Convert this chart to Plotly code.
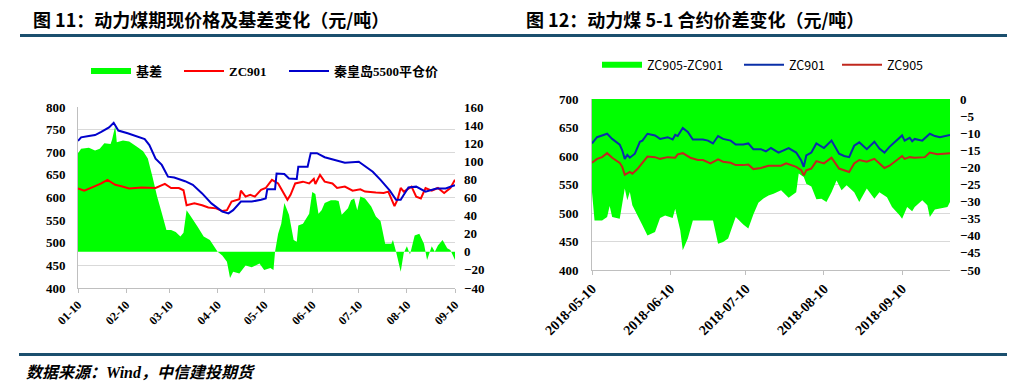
import plotly.graph_objects as go

# ---------------- Chart 1 data (图11) ----------------
basis_dates = ["2018-01-10","2018-01-12","2018-01-17","2018-01-21","2018-01-24","2018-01-27","2018-01-31","2018-02-01","2018-02-03","2018-02-04","2018-02-08","2018-02-12","2018-02-17","2018-02-21","2018-02-24","2018-02-27","2018-03-02","2018-03-05","2018-03-08","2018-03-11","2018-03-14","2018-03-17","2018-03-19","2018-03-21","2018-03-23","2018-03-28","2018-04-01","2018-04-05","2018-04-10","2018-04-13","2018-04-16","2018-04-18","2018-04-20","2018-04-24","2018-04-28","2018-05-02","2018-05-07","2018-05-10","2018-05-14","2018-05-16","2018-05-17","2018-05-19","2018-05-21","2018-05-23","2018-05-26","2018-05-29","2018-05-31","2018-06-01","2018-06-04","2018-06-08","2018-06-10","2018-06-12","2018-06-14","2018-06-16","2018-06-18","2018-06-22","2018-06-25","2018-06-27","2018-06-29","2018-07-03","2018-07-05","2018-07-07","2018-07-09","2018-07-11","2018-07-14","2018-07-18","2018-07-21","2018-07-24","2018-07-27","2018-07-31","2018-08-01","2018-08-03","2018-08-04","2018-08-06","2018-08-08","2018-08-10","2018-08-12","2018-08-15","2018-08-18","2018-08-21","2018-08-23","2018-08-26","2018-08-28","2018-08-30","2018-09-02","2018-09-05","2018-09-07","2018-09-10"]
basis = [109,114,115,112,114,120,119,124,139,121,123,122,116,111,103,83,61,43,24,24,22,17,21,46,41,28,17,13,0,-4,-11,-29,-22,-24,-15,-17,-13,-20,-18,-20,0,20,31,54,41,13,11,29,31,42,66,64,42,46,54,57,57,56,41,48,57,59,46,61,59,50,39,34,9,9,13,0,-7,-22,-1,6,-3,18,20,9,-9,6,0,7,13,4,2,-9]

zc901_dates = ["2018-01-10","2018-01-14","2018-01-21","2018-01-25","2018-01-29","2018-02-03","2018-02-07","2018-02-12","2018-02-20","2018-03-01","2018-03-07","2018-03-11","2018-03-16","2018-03-19","2018-03-21","2018-03-26","2018-03-31","2018-04-04","2018-04-09","2018-04-13","2018-04-16","2018-04-19","2018-04-24","2018-04-25","2018-04-28","2018-05-01","2018-05-04","2018-05-08","2018-05-11","2018-05-14","2018-05-15","2018-05-19","2018-05-23","2018-05-25","2018-05-27","2018-05-30","2018-06-04","2018-06-08","2018-06-11","2018-06-12","2018-06-15","2018-06-18","2018-06-23","2018-06-26","2018-07-01","2018-07-06","2018-07-11","2018-07-14","2018-07-21","2018-07-26","2018-07-29","2018-08-01","2018-08-02","2018-08-04","2018-08-06","2018-08-08","2018-08-13","2018-08-16","2018-08-19","2018-08-22","2018-08-26","2018-08-30","2018-09-03","2018-09-07","2018-09-10"]
zc901 = [620,615,625,631,639,628,625,620,622,621,630,621,621,616,583,587,583,578,576,570,572,591,596,615,602,606,602,617,621,635,639,631,606,595,606,631,635,631,641,630,650,635,631,621,624,615,618,613,611,610,613,591,581,596,621,613,624,602,598,621,615,621,610,621,639]

qhd_dates = ["2018-01-10","2018-01-12","2018-01-17","2018-01-21","2018-01-25","2018-01-30","2018-02-02","2018-02-05","2018-02-11","2018-02-16","2018-02-22","2018-02-25","2018-03-01","2018-03-05","2018-03-09","2018-03-13","2018-03-20","2018-03-25","2018-03-31","2018-04-06","2018-04-13","2018-04-17","2018-04-20","2018-04-25","2018-05-02","2018-05-08","2018-05-11","2018-05-12","2018-05-17","2018-05-18","2018-05-23","2018-05-26","2018-05-31","2018-06-01","2018-06-07","2018-06-09","2018-06-13","2018-06-18","2018-06-25","2018-07-01","2018-07-10","2018-07-14","2018-07-19","2018-07-24","2018-07-30","2018-08-03","2018-08-06","2018-08-08","2018-08-11","2018-08-16","2018-08-22","2018-08-29","2018-09-04","2018-09-08","2018-09-10"]
qhd = [725,733,736,738,745,755,765,748,742,736,729,716,686,672,646,644,636,628,609,587,569,565,572,591,591,595,598,618,618,653,652,642,641,668,668,698,698,689,683,677,679,670,657,639,615,595,595,606,622,624,613,620,620,625,627]

c1_tickvals = ["2018-01-10","2018-02-10","2018-03-10","2018-04-10","2018-05-10","2018-06-10","2018-07-10","2018-08-10","2018-09-10"]
c1_ticktext = ["01-10","02-10","03-10","04-10","05-10","06-10","07-10","08-10","09-10"]

# ---------------- Chart 2 data (图12) ----------------
spread_dates = ["2018-05-10","2018-05-11","2018-05-14","2018-05-16","2018-05-17","2018-05-18","2018-05-21","2018-05-23","2018-05-24","2018-05-25","2018-05-26","2018-05-30","2018-06-01","2018-06-04","2018-06-06","2018-06-08","2018-06-11","2018-06-12","2018-06-14","2018-06-15","2018-06-17","2018-06-19","2018-06-23","2018-06-27","2018-06-29","2018-07-01","2018-07-03","2018-07-06","2018-07-09","2018-07-11","2018-07-13","2018-07-15","2018-07-17","2018-07-19","2018-07-21","2018-07-24","2018-07-27","2018-07-30","2018-07-31","2018-08-02","2018-08-03","2018-08-05","2018-08-07","2018-08-09","2018-08-11","2018-08-13","2018-08-15","2018-08-17","2018-08-19","2018-08-22","2018-08-24","2018-08-27","2018-08-30","2018-09-01","2018-09-04","2018-09-06","2018-09-09","2018-09-10","2018-09-12","2018-09-14","2018-09-15","2018-09-18","2018-09-20","2018-09-21","2018-09-23","2018-09-25","2018-09-28","2018-09-29"]
spread = [-27.2,-35.5,-35.5,-34.5,-31.3,-34.5,-35.0,-26.2,-29.6,-27.2,-31.1,-36.9,-39.9,-38.9,-34.8,-34.1,-34.8,-32.1,-38.4,-44.2,-40.8,-35.5,-35.5,-35.5,-42.3,-41.8,-40.8,-34.5,-36.7,-37.9,-33.8,-30.3,-29.1,-28.2,-27.7,-26.7,-28.9,-27.3,-21.8,-22.8,-24.8,-25.6,-29.3,-29.2,-30.1,-27.3,-23.8,-26.7,-25.2,-27.3,-30.1,-26.2,-29.2,-27.3,-28.7,-31.6,-34.0,-35.0,-31.6,-32.8,-31.6,-29.6,-31.1,-34.5,-32.3,-32.0,-31.6,-30.1]

c901_dates = ["2018-05-10","2018-05-12","2018-05-14","2018-05-16","2018-05-18","2018-05-21","2018-05-22","2018-05-23","2018-05-24","2018-05-25","2018-05-27","2018-05-29","2018-05-30","2018-06-01","2018-06-04","2018-06-06","2018-06-09","2018-06-11","2018-06-12","2018-06-13","2018-06-15","2018-06-17","2018-06-19","2018-06-23","2018-06-25","2018-06-27","2018-06-29","2018-07-01","2018-07-04","2018-07-06","2018-07-09","2018-07-11","2018-07-13","2018-07-16","2018-07-18","2018-07-20","2018-07-23","2018-07-25","2018-07-27","2018-07-30","2018-08-01","2018-08-02","2018-08-03","2018-08-05","2018-08-07","2018-08-10","2018-08-13","2018-08-16","2018-08-18","2018-08-20","2018-08-22","2018-08-24","2018-08-27","2018-08-30","2018-09-01","2018-09-03","2018-09-05","2018-09-07","2018-09-10","2018-09-11","2018-09-13","2018-09-14","2018-09-15","2018-09-18","2018-09-21","2018-09-23","2018-09-25","2018-09-29"]
c901 = [622,633,636,639,630,620,610,595,602,597,604,625,627,639,636,630,633,629,637,635,649,642,629,629,627,622,635,630,627,620,620,622,612,612,608,614,606,610,614,606,592,581,601,606,622,614,627,604,600,598,618,624,612,625,613,606,616,624,636,627,632,626,630,627,639,635,633,637]

c905_dates = ["2018-05-10","2018-05-12","2018-05-14","2018-05-16","2018-05-18","2018-05-21","2018-05-22","2018-05-23","2018-05-25","2018-05-26","2018-05-28","2018-05-30","2018-06-01","2018-06-04","2018-06-06","2018-06-09","2018-06-12","2018-06-13","2018-06-15","2018-06-18","2018-06-21","2018-06-23","2018-06-26","2018-06-29","2018-07-01","2018-07-04","2018-07-06","2018-07-09","2018-07-11","2018-07-13","2018-07-16","2018-07-19","2018-07-24","2018-07-26","2018-07-30","2018-08-01","2018-08-02","2018-08-03","2018-08-05","2018-08-07","2018-08-10","2018-08-13","2018-08-16","2018-08-20","2018-08-22","2018-08-24","2018-08-27","2018-08-30","2018-09-03","2018-09-05","2018-09-07","2018-09-10","2018-09-11","2018-09-13","2018-09-15","2018-09-19","2018-09-21","2018-09-24","2018-09-29"]
c905 = [588,595,598,605,597,588,581,567,572,569,577,588,599,598,595,598,597,603,605,597,593,593,587,594,590,588,584,584,585,577,579,583,583,587,581,575,566,575,578,591,587,597,578,572,587,593,590,595,579,583,590,600,595,598,597,598,606,603,605]

c2_tickvals = ["2018-05-10","2018-06-10","2018-07-10","2018-08-10","2018-09-10"]

# ---------------- styling ----------------
W, H = 1031, 387
def px_x(p): return p / W
def px_y(p): return 1 - p / H

SERIF = "Liberation Serif, Times New Roman, Noto Sans CJK SC"
SANS = "Noto Sans CJK SC, Noto Sans, sans-serif"
tick_font = dict(family=SERIF, size=13, color="#000000", weight="bold")
xtick_font1 = dict(family=SERIF, size=12, color="#000000", weight="bold")
xtick_font2 = dict(family=SERIF, size=14, color="#000000", weight="bold")
GREEN = "#00FF00"
AXIS = "#BFBFBF"
GRID = "#D9D9D9"

fig = go.Figure()

# Chart 1
fig.add_trace(go.Scatter(x=basis_dates, y=basis, name="基差", mode="none", fill="tozeroy",
                         fillcolor=GREEN, xaxis="x", yaxis="y", legend="legend"))
fig.add_trace(go.Scatter(x=zc901_dates, y=zc901, name="ZC901", mode="lines",
                         line=dict(color="#FF0000", width=2), xaxis="x", yaxis="y2", legend="legend2"))
fig.add_trace(go.Scatter(x=qhd_dates, y=qhd, name="秦皇岛5500平仓价", mode="lines",
                         line=dict(color="#0000CC", width=2), xaxis="x", yaxis="y2", legend="legend3"))

# Chart 2
fig.add_trace(go.Scatter(x=spread_dates, y=spread, name="ZC905-ZC901", mode="none", fill="tozeroy",
                         fillcolor=GREEN, xaxis="x2", yaxis="y3", legend="legend4"))
fig.add_trace(go.Scatter(x=c901_dates, y=c901, name="ZC901", mode="lines",
                         line=dict(color="#0A2FA8", width=2), xaxis="x2", yaxis="y4", legend="legend5"))
fig.add_trace(go.Scatter(x=c905_dates, y=c905, name="ZC905", mode="lines",
                         line=dict(color="#C0281E", width=2), xaxis="x2", yaxis="y4", legend="legend6"))

leg1_font = dict(family=SERIF, size=13, color="#000000", weight="bold")
leg2_font = dict(family=SANS, size=12.5, color="#000000")

def leg(xpx, ypx, font):
    return dict(orientation="h", x=px_x(xpx), y=px_y(ypx), xanchor="left", yanchor="middle",
                font=font, itemwidth=40, bgcolor="rgba(0,0,0,0)")

fig.update_layout(
    template="none",
    width=W, height=H, margin=dict(l=0, r=0, t=0, b=0, autoexpand=False),
    paper_bgcolor="white", plot_bgcolor="white",
    xaxis=dict(domain=[px_x(78), px_x(455)], anchor="y", type="date", automargin=False,
               range=["2018-01-10", "2018-09-10"], tickvals=c1_tickvals, ticktext=c1_ticktext,
               tickangle=-45, tickfont=xtick_font1, showgrid=False, showline=True, linecolor=AXIS,
               ticks="outside", ticklen=4, tickcolor=AXIS, zeroline=False),
    yaxis=dict(domain=[px_y(288), px_y(107)], anchor="x", side="right", range=[-40, 160], dtick=20,
               automargin=False, ticks="", ticklabelstandoff=8, tickfont=tick_font,
               showgrid=False, zeroline=False, showline=False),
    yaxis2=dict(overlaying="y", anchor="x", side="left", range=[400, 800], dtick=50, automargin=False,
                ticks="", ticklabelstandoff=9, tickfont=tick_font, showgrid=True, gridcolor=GRID,
                gridwidth=1, showline=True, linecolor=AXIS, zeroline=False),
    xaxis2=dict(domain=[px_x(592), px_x(950)], anchor="y3", type="date", automargin=False,
                range=["2018-05-10", "2018-09-29"], tickvals=c2_tickvals, tickformat="%Y-%m-%d",
                tickangle=-45, tickfont=xtick_font2, showgrid=False, showline=True, linecolor=AXIS,
                ticks="outside", ticklen=4, tickcolor=AXIS, zeroline=False),
    yaxis3=dict(domain=[px_y(270), px_y(99)], anchor="x2", side="right", range=[-50, 0], dtick=5,
                automargin=False, ticks="", ticklabelstandoff=9, tickfont=tick_font,
                showgrid=False, zeroline=False, showline=False),
    yaxis4=dict(overlaying="y3", anchor="x2", side="left", range=[400, 700], dtick=50, automargin=False,
                ticks="", ticklabelstandoff=10, tickfont=tick_font, showgrid=True, gridcolor=GRID,
                gridwidth=1, showline=True, linecolor=AXIS, zeroline=False),
    legend=leg(86, 71, leg1_font),
    legend2=leg(179, 71, leg1_font),
    legend3=leg(284, 71, leg1_font),
    legend4=leg(597, 65, leg2_font),
    legend5=leg(739, 65, leg2_font),
    legend6=leg(837, 65, leg2_font),
    showlegend=True,
)

BAR = "#1B4F6E"
fig.add_shape(type="rect", xref="paper", yref="paper", x0=px_x(20), x1=px_x(1007),
              y0=px_y(37), y1=px_y(34), fillcolor=BAR, line=dict(width=0))
fig.add_shape(type="rect", xref="paper", yref="paper", x0=px_x(19), x1=px_x(1007),
              y0=px_y(356), y1=px_y(353), fillcolor=BAR, line=dict(width=0))

title_font = dict(family=SANS, size=18, color="#000000", weight="bold")
fig.add_annotation(text="图 11：动力煤期现价格及基差变化（元/吨）", xref="paper", yref="paper",
                   x=px_x(31), y=px_y(19), xanchor="left", yanchor="middle", showarrow=False, font=title_font)
fig.add_annotation(text="图 12：动力煤 5-1 合约价差变化（元/吨）", xref="paper", yref="paper",
                   x=px_x(524), y=px_y(19), xanchor="left", yanchor="middle", showarrow=False, font=title_font)
fig.add_annotation(text="数据来源：Wind，中信建投期货", xref="paper", yref="paper",
                   x=px_x(24), y=px_y(372), xanchor="left", yanchor="middle", showarrow=False,
                   font=dict(family=SERIF, size=16, color="#000000", weight="bold", style="italic"))

fig.write_html("out.html", config={"displayModeBar": False},
               post_script="document.body.style.margin='0';")
